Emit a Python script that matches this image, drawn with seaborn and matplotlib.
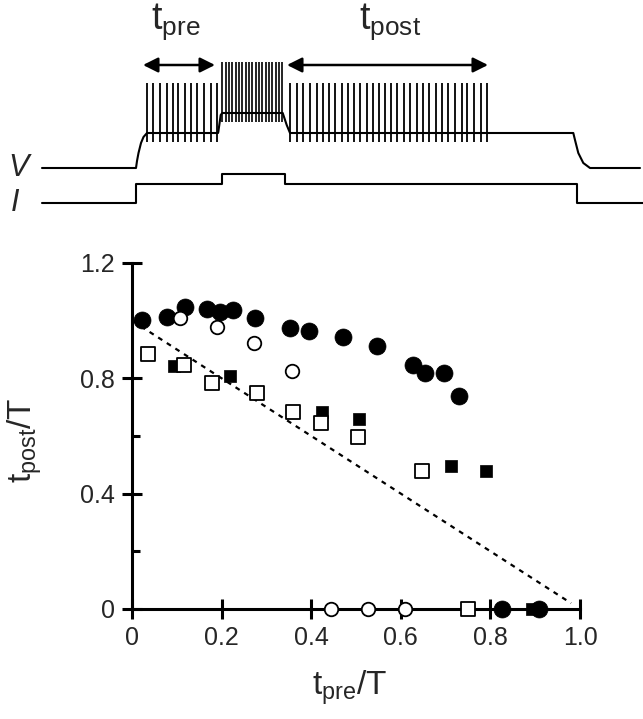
import numpy as np
import pandas as pd
import matplotlib
matplotlib.use('Agg')
import matplotlib.pyplot as plt
import seaborn as sns

# ---- data ----
# filled circles
fc_x = [0.022, 0.077, 0.118, 0.168, 0.196, 0.226, 0.275, 0.353, 0.394, 0.470, 0.546,
        0.628, 0.654, 0.696, 0.730, 0.825, 0.909]
fc_y = [1.002, 1.012, 1.049, 1.040, 1.031, 1.037, 1.008, 0.974, 0.965, 0.942, 0.912,
        0.845, 0.818, 0.818, 0.737, 0.0, 0.0]
# open circles
oc_x = [0.107, 0.190, 0.272, 0.356, 0.444, 0.526, 0.609]
oc_y = [1.008, 0.977, 0.921, 0.827, 0.0, 0.0, 0.0]
# filled squares
fs_x = [0.094, 0.219, 0.423, 0.507, 0.711, 0.790, 0.892]
fs_y = [0.843, 0.808, 0.684, 0.659, 0.497, 0.480, 0.0]
# open squares
os_x = [0.036, 0.116, 0.178, 0.278, 0.360, 0.421, 0.505, 0.647, 0.751]
os_y = [0.884, 0.845, 0.783, 0.748, 0.684, 0.644, 0.598, 0.480, 0.0]
# reference line t_post = T - t_pre
diag_x = [0.02, 0.98]
diag_y = [0.98, 0.02]

x_ticks = [0, 0.2, 0.4, 0.6, 0.8, 1.0]
x_labels = ['0', '0.2', '0.4', '0.6', '0.8', '1.0']
y_ticks = [0, 0.4, 0.8, 1.2]
y_labels = ['0', '0.4', '0.8', '1.2']
y_minor = [0.2, 0.6, 1.0]

# schematic traces (time in ms, arbitrary voltage / current units)
v_time = [0, 94, 95, 96.5, 99, 101.5, 105, 176, 176.3, 178.7, 180.3, 240.7, 244.7, 248,
          531.3, 533, 536.3, 541.3, 548, 598]
v_trace = [0, 0, 7, 15, 25, 31, 35, 35, 36, 53, 55, 55, 43, 35,
           35, 28, 15, 5, 0, 0]
i_time = [0, 94, 180, 243, 535, 601]
i_trace = [0, 19, 29, 19, 0, 0]
spikes_pre = [105, 111, 118, 125, 131, 136, 143, 149, 155, 162, 169, 175]
spikes_mid = [180, 184, 187, 190, 194, 197, 200, 204, 207, 210, 214, 217, 220, 224,
              227, 230, 234, 237, 240]
spikes_post = [248, 255, 261, 268, 275, 281, 287, 293, 300, 306, 312, 318, 325, 331,
               337, 343, 349, 355, 362, 368, 375, 381, 387, 394, 400, 406, 413, 420,
               425, 432, 439, 445]
spike_lo, spike_hi = 26, 85
spike_mid_lo, spike_mid_hi = 46, 106

sns.set_style('white')
plt.rcParams['font.family'] = ['Liberation Sans', 'DejaVu Sans']
plt.rcParams['mathtext.default'] = 'regular'

fig = plt.figure(figsize=(6.43, 7.19), dpi=100)

# ---- schematic ----
ax_top = fig.add_axes([0, 1 - 225 / 719, 1, 225 / 719])
ax_top.set_xlim(-42, 601)
ax_top.set_ylim(-57, 168)
ax_top.axis('off')

sns.lineplot(x=v_time, y=v_trace, ax=ax_top, sort=False, estimator=None,
             color='black', linewidth=1.5)
sns.lineplot(x=i_time, y=np.array(i_trace) - 35, ax=ax_top, sort=False, estimator=None,
             color='black', linewidth=1.5, drawstyle='steps-post')
ax_top.vlines(spikes_pre, spike_lo, spike_hi, color='black', linewidth=1.3)
ax_top.vlines(spikes_mid, spike_mid_lo, spike_mid_hi, color='black', linewidth=1.2)
ax_top.vlines(spikes_post, spike_lo, spike_hi, color='black', linewidth=1.3)

arrow = dict(arrowstyle='<|-|>,head_length=0.9,head_width=0.45', lw=1.8,
             color='black', shrinkA=0, shrinkB=0)
ax_top.annotate('', xy=(173, 103), xytext=(101, 103), arrowprops=arrow)
ax_top.annotate('', xy=(446, 103), xytext=(245, 103), arrowprops=arrow)
ax_top.text(134, 146, r'$t_{pre}$', fontsize=27, ha='center', va='center')
ax_top.text(348, 146, r'$t_{post}$', fontsize=27, ha='center', va='center')
ax_top.text(-23, 0, 'V', fontsize=22, fontstyle='italic', ha='center', va='center')
ax_top.text(-27, -35, 'I', fontsize=22, fontstyle='italic', ha='center', va='center')

# ---- scatter plot ----
ax = fig.add_axes([0.1705, 0.133, 0.7664, 0.5213])
ax.set_xlim(-0.05, 1.05)
ax.set_ylim(-0.05, 1.25)

sns.lineplot(x=diag_x, y=diag_y, ax=ax, color='black', linewidth=1.6,
             linestyle=(0, (2.2, 2.4)), zorder=2)
sns.scatterplot(x=fc_x, y=fc_y, ax=ax, marker='o', s=150, color='black',
                edgecolor='black', linewidth=0.5, zorder=4, clip_on=False, legend=False)
sns.scatterplot(x=oc_x, y=oc_y, ax=ax, marker='o', s=95, color='white',
                edgecolor='black', linewidth=1.3, zorder=4, clip_on=False, legend=False)
sns.scatterplot(x=fs_x, y=fs_y, ax=ax, marker='s', s=80, color='black',
                edgecolor='black', linewidth=0.5, zorder=3, clip_on=False, legend=False)
sns.scatterplot(x=os_x, y=os_y, ax=ax, marker='s', s=110, color='white',
                edgecolor='black', linewidth=1.3, zorder=4, clip_on=False, legend=False)

for side in ['top', 'right']:
    ax.spines[side].set_visible(False)
ax.spines['left'].set_position(('data', 0))
ax.spines['bottom'].set_position(('data', 0))
ax.spines['left'].set_bounds(0, 1.2)
ax.spines['bottom'].set_bounds(0, 1.0)
for side in ['left', 'bottom']:
    ax.spines[side].set_linewidth(2.2)
    ax.spines[side].set_color('black')
    ax.spines[side].set_zorder(1)

ax.set_xticks(x_ticks)
ax.set_xticklabels(x_labels)
ax.set_yticks(y_ticks)
ax.set_yticklabels(y_labels)
ax.set_yticks(y_minor, minor=True)
ax.tick_params(which='major', direction='inout', length=15, width=2.2,
               labelsize=18, color='black', pad=5, bottom=True, left=True)
ax.tick_params(axis='y', which='minor', direction='in', length=6, width=2.2,
               color='black', left=True)
ax.set_xlabel('')
ax.set_ylabel('')

fig.text(350 / 643, 1 - 688 / 719, r'$t_{pre}/T$', fontsize=24, ha='center', va='center')
fig.text(25 / 643, 1 - 440 / 719, r'$t_{post}/T$', fontsize=24, ha='center', va='center',
         rotation=90)

fig.savefig('out.png', dpi=100)
